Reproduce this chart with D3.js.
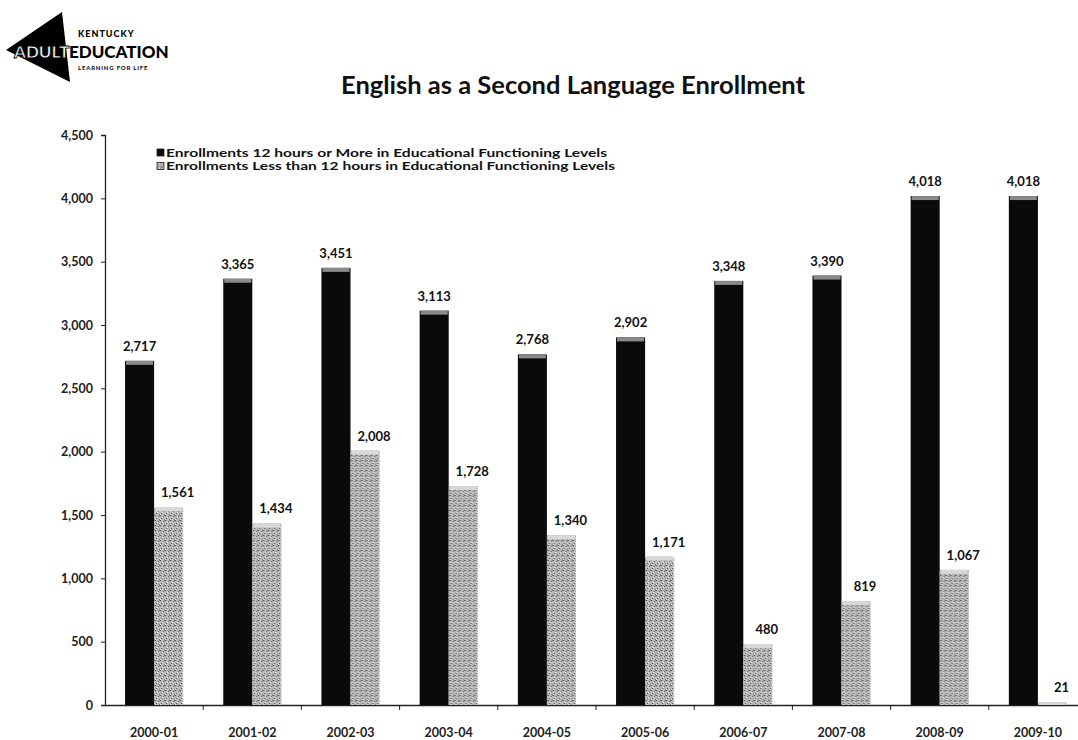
<!DOCTYPE html>
<html>
<head>
<meta charset="utf-8">
<script src="https://cdn.jsdelivr.net/npm/d3@7"></script>
<style>
  html, body { margin: 0; padding: 0; background: #fff; }
  svg { display: block; font-family: Lato, "Open Sans", sans-serif; }
</style>
</head>
<body>
<svg id="chart" width="1078" height="740"></svg>
<script>
const categories = ["2000-01","2001-02","2002-03","2003-04","2004-05","2005-06","2006-07","2007-08","2008-09","2009-10"];
const seriesNames = [
  "Enrollments 12 hours or More in Educational Functioning Levels",
  "Enrollments Less than 12 hours in Educational Functioning Levels"
];
const moreThan12 = [2717, 3365, 3451, 3113, 2768, 2902, 3348, 3390, 4018, 4018];
const lessThan12 = [1561, 1434, 2008, 1728, 1340, 1171, 480, 819, 1067, 21];
const yTicks = [0, 500, 1000, 1500, 2000, 2500, 3000, 3500, 4000, 4500];
const title = "English as a Second Language Enrollment";

const svg = d3.select("#chart");
const fmt = d3.format(",");

// ---- logo ----
const logo = svg.append("g");
logo.append("path").attr("d", "M6,50 L62,12 L70,82 Z").attr("fill", "#000");
logo.append("text").attr("x", 78).attr("y", 37).attr("font-size", 9).attr("font-weight", 900)
  .attr("letter-spacing", 1).text("KENTUCKY");
logo.append("text").attr("x", 14).attr("y", 58).attr("font-size", 17).attr("font-weight", 900)
  .attr("fill", "#fff").attr("stroke", "#000").attr("stroke-width", 0.8).text("ADULT");
logo.append("text").attr("x", 69).attr("y", 58).attr("font-size", 17).attr("font-weight", 900)
  .attr("fill", "#000").text("EDUCATION");
logo.append("text").attr("x", 78).attr("y", 70).attr("font-size", 6).attr("font-weight", 700)
  .attr("letter-spacing", 0.8).text("LEARNING FOR LIFE");

// ---- title ----
svg.append("text").attr("x", 573).attr("y", 94).attr("text-anchor", "middle")
  .attr("font-size", 25.5).attr("font-weight", 700).attr("fill", "#111").text(title);

// ---- scales ----
const x = d3.scaleBand().domain(categories).range([105, 1087]).paddingInner(0).paddingOuter(0);
const xs = d3.scaleBand().domain([0, 1]).range([0, x.bandwidth()]).paddingInner(0).paddingOuter(0.69);
const y = d3.scaleLinear().domain([0, 4500]).range([705, 135]);

// patterns
const defs = svg.append("defs");
const pd = defs.append("pattern").attr("id", "darkPat").attr("patternUnits", "userSpaceOnUse")
  .attr("width", 6).attr("height", 6);
pd.append("rect").attr("width", 6).attr("height", 6).attr("fill", "#0a0a0a");
const pl = defs.append("pattern").attr("id", "lightPat").attr("patternUnits", "userSpaceOnUse")
  .attr("width", 5).attr("height", 5);
pl.append("rect").attr("width", 5).attr("height", 5).attr("fill", "#b8b8b8");
[[0,0,"#444"],[3,1,"#666"],[1,3,"#555"],[4,4,"#777"],[2,2,"#e8e8e8"],[4,0,"#888"],[0,4,"#eee"]].forEach(p => {
  pl.append("rect").attr("x", p[0]).attr("y", p[1]).attr("width", 1).attr("height", 1).attr("fill", p[2]);
});

const fills = ["url(#darkPat)", "url(#lightPat)"];
const caps = ["#8a8a8a", "#d8d8d8"];

const data = categories.map((c, i) => ({ cat: c, vals: [moreThan12[i], lessThan12[i]] }));

// ---- axes ----
const yAxis = d3.axisLeft(y).tickValues(yTicks).tickFormat(fmt).tickSizeOuter(0).tickSize(4);
const gy = svg.append("g").attr("transform", "translate(105,0)").call(yAxis);
gy.select(".domain").attr("stroke", "#222").attr("stroke-width", 1.3);
gy.selectAll(".tick line").attr("stroke", "#222");
gy.selectAll(".tick text").attr("x", -12).attr("font-size", 12.5).attr("font-weight", 700)
  .attr("fill", "#222").attr("font-family", "Lato, sans-serif");

const xAxis = d3.axisBottom(x).tickSize(0).tickSizeOuter(0);
const gx = svg.append("g").attr("transform", "translate(0,705)").call(xAxis);
gx.select(".domain").attr("stroke", "#222").attr("stroke-width", 1.3);
gx.selectAll(".tick text").attr("y", 23).attr("font-size", 12.5).attr("font-weight", 700)
  .attr("fill", "#222").attr("font-family", "Lato, sans-serif");
// separator ticks between categories
svg.append("g").selectAll("line").data(categories.slice(1)).join("line")
  .attr("x1", d => x(d)).attr("x2", d => x(d)).attr("y1", 705).attr("y2", 710)
  .attr("stroke", "#222");

// ---- bars ----
const groups = svg.append("g").selectAll("g").data(data).join("g")
  .attr("transform", d => `translate(${x(d.cat)},0)`);

groups.selectAll("rect.bar").data(d => d.vals.map((v, k) => ({ v, k }))).join("rect")
  .attr("class", "bar")
  .attr("x", d => xs(d.k)).attr("width", xs.bandwidth())
  .attr("y", d => y(d.v)).attr("height", d => y(0) - y(d.v))
  .attr("fill", d => fills[d.k]);

groups.selectAll("rect.cap").data(d => d.vals.map((v, k) => ({ v, k }))).join("rect")
  .attr("class", "cap")
  .attr("x", d => xs(d.k) + 1).attr("width", xs.bandwidth() - 2)
  .attr("y", d => y(d.v)).attr("height", d => Math.min(4, y(0) - y(d.v)))
  .attr("fill", d => caps[d.k]);

groups.selectAll("text.val").data(d => d.vals.map((v, k) => ({ v, k }))).join("text")
  .attr("class", "val")
  .attr("x", d => xs(d.k) + xs.bandwidth() / 2 + (d.k === 1 ? 9 : 0))
  .attr("y", d => y(d.v) - 10)
  .attr("text-anchor", "middle")
  .attr("font-size", 13).attr("font-weight", 700).attr("fill", "#111")
  .text(d => fmt(d.v));

// ---- legend ----
const legendLen = [441, 449];
const legend = svg.append("g").selectAll("g").data(seriesNames).join("g")
  .attr("transform", (d, i) => `translate(157,${153 + i * 13.5})`);
legend.append("rect").attr("x", 0).attr("y", -4).attr("width", 7).attr("height", 7)
  .attr("fill", (d, i) => fills[i]).attr("stroke", "#222").attr("stroke-width", 0.8);
legend.append("text").attr("x", 9).attr("y", 3.5).attr("font-size", 11.5).attr("font-weight", 700)
  .attr("fill", "#111").attr("textLength", (d, i) => legendLen[i]).attr("lengthAdjust", "spacingAndGlyphs")
  .text(d => d);
</script>
</body>
</html>
